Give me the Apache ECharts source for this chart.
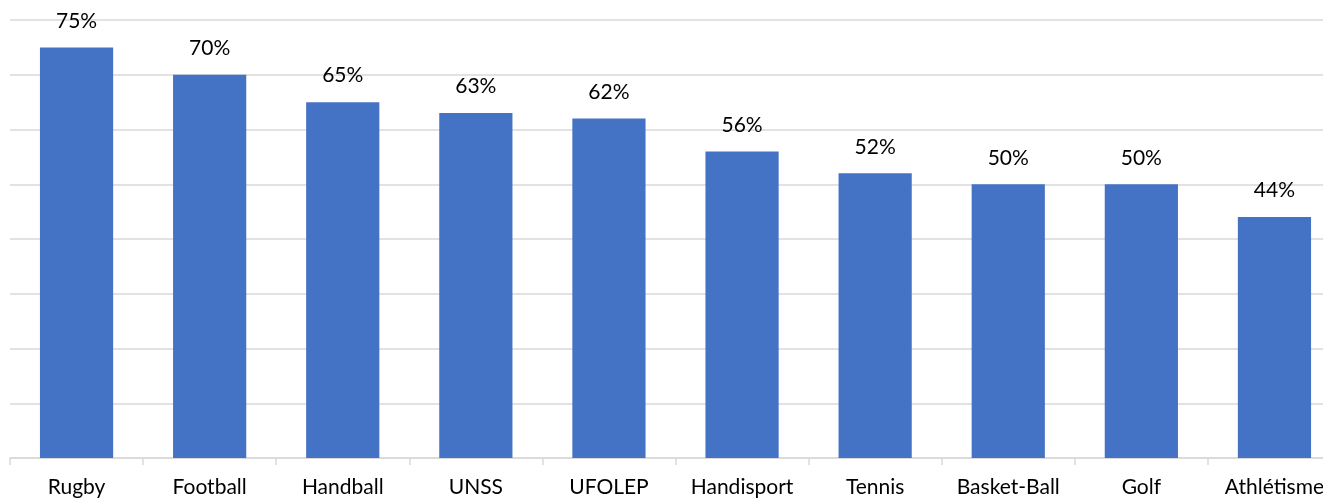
<!DOCTYPE html>
<html lang="fr">
<head>
    <meta charset="UTF-8">
    <title>Taux par discipline</title>
    <script src="https://cdn.jsdelivr.net/npm/echarts@6/dist/echarts.min.js"></script>
    <style>
        html, body { margin: 0; padding: 0; background: #fff; }
        #chart { width: 1323px; height: 500px; }
    </style>
</head>
<body>
<div id="chart"></div>
<script type="text/javascript">
    // données
    var sports = ['Rugby', 'Football', 'Handball', 'UNSS', 'UFOLEP', 'Handisport', 'Tennis', 'Basket-Ball', 'Golf', 'Athlétisme'];
    var taux = [75, 70, 65, 63, 62, 56, 52, 50, 50, 44];

    var chart = echarts.init(document.getElementById('chart'));
    var option = {
        animation: false,
        grid: {
            left: 10,
            top: 20,
            right: -18,
            bottom: 42,
            containLabel: false,
            outerBoundsMode: 'none'
        },
        xAxis: {
            type: 'category',
            data: sports,
            axisLine: { lineStyle: { color: '#d9d9d9', width: 1.5 } },
            axisTick: { show: true, interval: 0, length: 7, lineStyle: { color: '#d9d9d9', width: 1.5 } },
            axisLabel: {
                interval: 0,
                hideOverlap: false,
                color: '#000',
                fontSize: 21,
                fontFamily: 'Lato, "Noto Sans", sans-serif',
                margin: 19
            }
        },
        yAxis: {
            type: 'value',
            min: 0,
            max: 80,
            interval: 10,
            axisLine: { show: false },
            axisTick: { show: false },
            axisLabel: { show: false },
            splitLine: { lineStyle: { color: '#d9d9d9', width: 1.5 } }
        },
        series: [
            {
                type: 'bar',
                data: taux,
                barWidth: '55%',
                itemStyle: { color: '#4472c4' },
                label: {
                    show: true,
                    position: 'top',
                    distance: 16,
                    color: '#000',
                    fontSize: 21,
                    fontFamily: 'Lato, "Noto Sans", sans-serif',
                    formatter: '{c}%'
                }
            }
        ]
    };
    chart.setOption(option);
</script>
</body>
</html>
